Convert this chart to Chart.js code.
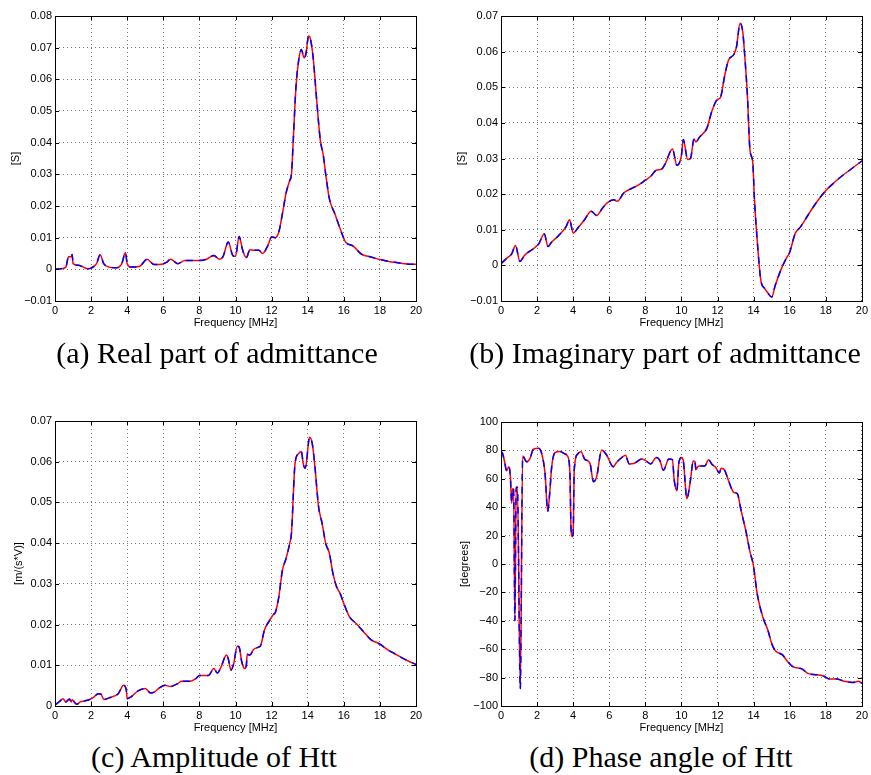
<!DOCTYPE html>
<html>
<head>
<meta charset="utf-8">
<script src="https://cdn.jsdelivr.net/npm/chart.js@4/dist/chart.umd.min.js"></script>
<style>
  body { margin: 0; background: #fff; }
  #fig { position: relative; width: 871px; height: 775px; overflow: hidden; }
  #fig canvas { position: absolute; }
  .cap {
    position: absolute; white-space: nowrap; transform: translateX(-50%);
    font-family: "Liberation Serif", "DejaVu Serif", serif; font-size: 30px; line-height: 30px; color: #000;
  }
</style>
</head>
<body>
<div id="fig">
  <canvas id="chartA" width="435" height="340" style="left:0;top:0"></canvas>
  <canvas id="chartB" width="436" height="340" style="left:435px;top:0"></canvas>
  <canvas id="chartC" width="435" height="340" style="left:0;top:400px"></canvas>
  <canvas id="chartD" width="436" height="340" style="left:435px;top:400px"></canvas>
  <div class="cap" style="left:217px;top:338px">(a) Real part of admittance</div>
  <div class="cap" style="left:665px;top:338px">(b) Imaginary part of admittance</div>
  <div class="cap" style="left:214px;top:742px">(c) Amplitude of Htt</div>
  <div class="cap" style="left:661px;top:742px">(d) Phase angle of Htt</div>
</div>
<script>
// frequency axis shared by all panels
const freqTicks = [0, 2, 4, 6, 8, 10, 12, 14, 16, 18, 20];

// (a) real part of admittance [S]
const freqRe = [0, 0.3, 0.6, 0.75, 0.9, 0.95, 1.0, 1.3, 1.8, 2.0, 2.3, 2.5, 2.7, 3.0, 3.4, 3.7, 3.9, 4.0, 4.2, 4.7,
  5.1, 5.5, 5.8, 6.2, 6.4, 6.8, 7.2, 7.6, 8.0, 8.4, 8.8, 9.1, 9.3, 9.6, 9.85, 10.0, 10.2, 10.4, 10.6, 10.8,
  11.0, 11.3, 11.5, 11.8, 12.0, 12.2, 12.4, 12.6, 12.8, 13.0, 13.1, 13.2, 13.35, 13.5, 13.65, 13.8, 13.9, 14.05, 14.15, 14.3,
  14.5, 14.7, 14.85, 15.0, 15.2, 15.5, 15.8, 16.1, 16.5, 17.0, 17.5, 18.0, 18.5, 19.0, 19.5, 20.0];
const realPart = [0.0, 0.0002, 0.0007, 0.004, 0.004, 0.0047, 0.0018, 0.0013, 0.0002, 0.0004, 0.0018, 0.0046, 0.0018, 0.0007, 0.0005, 0.0018, 0.0053, 0.0018, 0.0007, 0.001,
  0.0032, 0.0015, 0.0015, 0.0023, 0.0032, 0.0018, 0.0028, 0.0028, 0.0028, 0.0032, 0.0044, 0.0032, 0.0039, 0.0086, 0.0044, 0.0041, 0.0104, 0.006, 0.0037, 0.0062,
  0.006, 0.006, 0.005, 0.0076, 0.0102, 0.01, 0.0118, 0.0176, 0.024, 0.028, 0.030, 0.0407, 0.0576, 0.066, 0.0694, 0.0668, 0.068, 0.0737, 0.0728, 0.067,
  0.0533, 0.0407, 0.0365, 0.030, 0.0223, 0.0176, 0.0128, 0.0086, 0.0074, 0.0047, 0.0039, 0.0031, 0.0025, 0.0021, 0.0017, 0.0016];

// (b) imaginary part of admittance [S]
const freqIm = [0, 0.3, 0.6, 0.8, 1.05, 1.3, 1.8, 2.1, 2.4, 2.6, 2.8, 3.2, 3.6, 3.8, 4.0, 4.3, 4.6, 5.0, 5.3, 5.6,
  5.9, 6.25, 6.45, 6.8, 7.2, 7.6, 8.0, 8.3, 8.6, 8.9, 9.1, 9.5, 9.75, 10.0, 10.1, 10.35, 10.5, 10.7, 10.8, 11.0,
  11.4, 11.7, 12.0, 12.15, 12.4, 12.6, 12.9, 13.05, 13.25, 13.4, 13.5, 13.65, 13.8, 13.95, 14.05, 14.2, 14.4, 14.6, 14.8, 15.0,
  15.2, 15.5, 15.8, 16.0, 16.3, 16.6, 17.0, 17.5, 18.0, 18.5, 19.0, 19.5, 20.0];
const imagPart = [0.0005, 0.0019, 0.0033, 0.0056, 0.0011, 0.0028, 0.0047, 0.0061, 0.0089, 0.0053, 0.0065, 0.0084, 0.0108, 0.0128, 0.0091, 0.0108, 0.0126, 0.0152, 0.014, 0.0159,
  0.0176, 0.0184, 0.018, 0.0203, 0.0215, 0.0225, 0.0239, 0.025, 0.0267, 0.027, 0.0285, 0.0327, 0.0281, 0.0309, 0.0353, 0.0297, 0.030, 0.0355, 0.0346, 0.036,
  0.0384, 0.0435, 0.0466, 0.047, 0.0533, 0.0575, 0.0592, 0.0613, 0.068, 0.0655, 0.0594, 0.0482, 0.0323, 0.029, 0.0182, 0.007, -0.0042, -0.0064, -0.0078, -0.0089,
  -0.0056, -0.0014, 0.0019, 0.0037, 0.0089, 0.0108, 0.014, 0.0178, 0.021, 0.0234, 0.0255, 0.0274, 0.0293];

// (c) amplitude of Htt [m/(s*V)]
const freqAmp = [0.05, 0.25, 0.45, 0.6, 0.8, 0.9, 0.95, 1.05, 1.2, 1.4, 1.8, 2.1, 2.4, 2.55, 2.7, 3.0, 3.5, 3.8, 3.95, 4.0,
  4.2, 4.6, 5.0, 5.3, 5.5, 5.8, 6.1, 6.4, 6.8, 7.0, 7.5, 7.8, 8.0, 8.5, 8.8, 9.0, 9.2, 9.5, 9.6, 9.75,
  9.9, 10.1, 10.2, 10.35, 10.5, 10.6, 10.65, 10.8, 11.0, 11.3, 11.4, 11.6, 11.9, 12.1, 12.2, 12.4, 12.6, 12.8, 13.0, 13.1,
  13.3, 13.5, 13.65, 13.75, 13.85, 13.95, 14.0, 14.1, 14.25, 14.4, 14.6, 14.8, 15.0, 15.2, 15.4, 15.6, 15.8, 16.0, 16.3, 16.7,
  17.1, 17.5, 18.0, 18.4, 18.8, 19.2, 19.6, 20.0];
const ampHtt = [0.0004, 0.0011, 0.0018, 0.001, 0.0017, 0.001, 0.0016, 0.0011, 0.0004, 0.001, 0.0014, 0.002, 0.003, 0.0029, 0.0016, 0.002, 0.003, 0.0051, 0.0039, 0.0018,
  0.0022, 0.0037, 0.0043, 0.0032, 0.0034, 0.0045, 0.0051, 0.0048, 0.0055, 0.0061, 0.0061, 0.0067, 0.0075, 0.0075, 0.0092, 0.0081, 0.0096, 0.0125, 0.0116, 0.0088,
  0.0104, 0.0147, 0.0145, 0.0108, 0.0092, 0.010, 0.0127, 0.0125, 0.0139, 0.0145, 0.0149, 0.0186, 0.0211, 0.0225, 0.0229, 0.0268, 0.0334, 0.0362, 0.0399, 0.0424,
  0.0596, 0.062, 0.0625, 0.0596, 0.0584, 0.0604, 0.0629, 0.066, 0.0645, 0.0588, 0.049, 0.0448, 0.0399, 0.0375, 0.0325, 0.0293, 0.0276, 0.0252, 0.022, 0.0202,
  0.0182, 0.0163, 0.0152, 0.0139, 0.0129, 0.0119, 0.011, 0.0102];

// (d) phase angle of Htt [degrees]
const freqPh = [0, 0.07, 0.2, 0.31, 0.44, 0.52, 0.59, 0.64, 0.7, 0.77, 0.84, 0.91, 1.07, 1.2, 1.42, 1.6, 1.79, 2.07, 2.25, 2.44,
  2.59, 2.7, 2.81, 2.99, 3.27, 3.55, 3.69, 3.82, 3.88, 3.95, 4.0, 4.06, 4.25, 4.43, 4.65, 4.93, 5.12, 5.3, 5.58, 5.85,
  6.22, 6.4, 6.7, 6.9, 7.1, 7.4, 7.8, 8.0, 8.3, 8.6, 8.8, 9.0, 9.3, 9.5, 9.6, 9.75, 9.85, 10.0, 10.1, 10.3,
  10.5, 10.65, 10.75, 10.8, 10.9, 11.0, 11.3, 11.5, 11.7, 11.9, 12.1, 12.2, 12.4, 12.6, 12.9, 13.1, 13.3, 13.6, 13.8, 13.95,
  14.0, 14.2, 14.5, 14.8, 15.0, 15.2, 15.6, 15.9, 16.2, 16.7, 17.0, 17.5, 17.9, 18.2, 18.6, 19.0, 19.5, 19.8, 20.0];
const phaseHtt = [79, 78.4, 72, 65.7, 68.5, 61.5, 42.7, 53, 53, -40, 54, 54, -88, 76, 72, 74, 80.8, 81.5, 78, 63.8,
  36.9, 50, 68.5, 78.4, 79.3, 77.5, 76, 63.8, 25, 19.2, 22, 66.2, 77.5, 79, 73.7, 70.9, 58, 61.5, 80.3, 76.8,
  68.5, 71.5, 75, 76.5, 70.5, 71, 74, 73, 70.5, 75, 73, 66, 74, 73.5, 59, 51.5, 70.5, 75, 73, 46,
  59, 72.5, 72, 66.5, 68.5, 69, 69, 73.5, 70, 68, 64, 67.5, 66, 59, 50.5, 49.5, 38, 21.5, 8.5, 1.5,
  -2, -21, -37, -47, -56, -61, -64, -69, -72.5, -74, -77, -78, -79, -81, -81, -82.5, -83.5, -82.5, -84];

Chart.defaults.font.family = '"Liberation Sans", Arial, sans-serif';
Chart.defaults.font.size = 11;
Chart.defaults.color = '#000';

// box round the plot area with short inward ticks on all four sides
const boxAxes = {
  id: 'boxAxes',
  afterDraw(chart) {
    const { ctx, chartArea: a, scales: { x, y } } = chart;
    const len = 4;
    ctx.save();
    ctx.strokeStyle = '#000';
    ctx.lineWidth = 1;
    ctx.beginPath();
    x.ticks.forEach(t => {
      const px = Math.round(x.getPixelForValue(t.value)) + 0.5;
      ctx.moveTo(px, a.bottom); ctx.lineTo(px, a.bottom - len);
      ctx.moveTo(px, a.top); ctx.lineTo(px, a.top + len);
    });
    y.ticks.forEach(t => {
      const py = Math.round(y.getPixelForValue(t.value)) + 0.5;
      ctx.moveTo(a.left, py); ctx.lineTo(a.left + len, py);
      ctx.moveTo(a.right, py); ctx.lineTo(a.right - len, py);
    });
    ctx.stroke();
    ctx.strokeRect(Math.round(a.left) + 0.5, Math.round(a.top) + 0.5,
      Math.round(a.right - a.left), Math.round(a.bottom - a.top));
    ctx.restore();
  }
};

function fmtTick(v) {
  const r = Math.round(v * 1000) / 1000;
  return r < 0 ? '\u2212' + String(-r) : String(r);
}

function makeChart(id, freq, vals, p) {
  const pts = freq.map((f, i) => ({ x: f, y: vals[i] }));
  const line = { pointRadius: 0, borderWidth: 1.5, cubicInterpolationMode: 'monotone' };
  return new Chart(document.getElementById(id), {
    type: 'line',
    data: {
      // first dataset is painted last, so the dashed blue goes first to sit on the red
      datasets: [
        { ...line, label: 'model', data: pts, borderColor: '#0000ff', borderDash: [7, 6] },
        { ...line, label: 'measured', data: pts, borderColor: '#ff0000' }
      ]
    },
    options: {
      responsive: false,
      animation: false,
      events: [],
      layout: { padding: { left: 0, top: p.top, right: p.right, bottom: 0 } },
      plugins: { legend: { display: false }, tooltip: { enabled: false } },
      scales: {
        x: {
          type: 'linear', min: 0, max: 20,
          afterBuildTicks: s => { s.ticks = freqTicks.map(v => ({ value: v })); },
          afterFit: s => { s.height = p.xh; },
          grid: { color: '#777', lineWidth: 1, drawTicks: false },
          border: { display: false, dash: [1, 3] },
          ticks: { padding: 3, maxRotation: 0, autoSkip: false, callback: v => String(v) },
          title: { display: true, text: 'Frequency [MHz]', padding: { top: 0, bottom: p.xtb } }
        },
        y: {
          type: 'linear', min: p.ymin, max: p.ymax,
          afterBuildTicks: s => { s.ticks = p.yticks.map(v => ({ value: v })); },
          afterFit: s => { s.width = p.yw; },
          grid: { color: '#777', lineWidth: 1, drawTicks: false },
          border: { display: false, dash: [1, 3] },
          ticks: { padding: 3, autoSkip: false, callback: fmtTick },
          title: { display: true, text: p.ytitle, padding: { top: p.ytp, bottom: 0 } }
        }
      }
    },
    plugins: [boxAxes]
  });
}

const yTicksS8 = [-0.01, 0, 0.01, 0.02, 0.03, 0.04, 0.05, 0.06, 0.07, 0.08];
const yTicksS7 = [-0.01, 0, 0.01, 0.02, 0.03, 0.04, 0.05, 0.06, 0.07];
const yTicksAmp = [0, 0.01, 0.02, 0.03, 0.04, 0.05, 0.06, 0.07];
const yTicksDeg = [-100, -80, -60, -40, -20, 0, 20, 40, 60, 80, 100];

makeChart('chartA', freqRe, realPart, {
  top: 16, right: 19, yw: 55, xh: 39, xtb: 10.4, ytp: 9.4,
  ymin: -0.01, ymax: 0.08, yticks: yTicksS8, ytitle: '[S]'
});
makeChart('chartB', freqIm, imagPart, {
  top: 16, right: 9, yw: 66, xh: 39, xtb: 10.4, ytp: 20.4,
  ymin: -0.01, ymax: 0.07, yticks: yTicksS7, ytitle: '[S]'
});
makeChart('chartC', freqAmp, ampHtt, {
  top: 21, right: 19, yw: 55, xh: 34, xtb: 5.4, ytp: 12.7,
  ymin: 0, ymax: 0.07, yticks: yTicksAmp, ytitle: '[m/(s*V)]'
});
makeChart('chartD', freqPh, phaseHtt, {
  top: 22, right: 9, yw: 66, xh: 34, xtb: 5.4, ytp: 23.4,
  ymin: -100, ymax: 100, yticks: yTicksDeg, ytitle: '[degrees]'
});
</script>
</body>
</html>
